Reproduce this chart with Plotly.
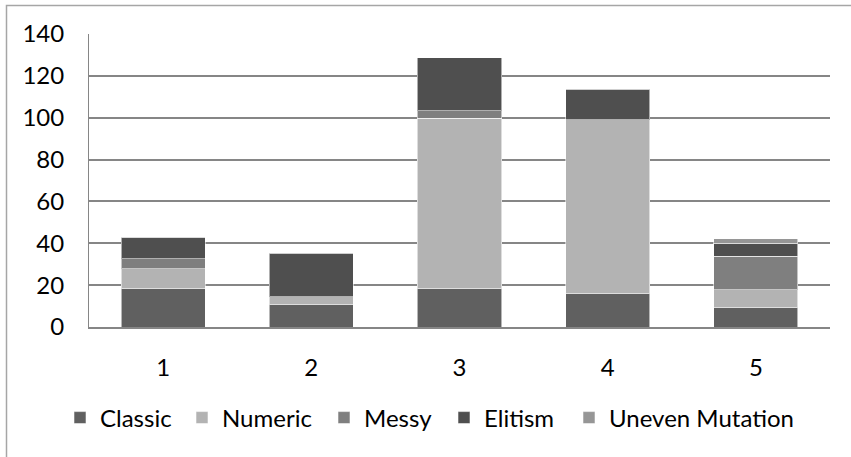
import plotly.graph_objects as go

categories = ["1", "2", "3", "4", "5"]
series_names = ["Classic", "Numeric", "Messy", "Elitism", "Uneven Mutation"]
classic = [18.4, 10.6, 18.5, 15.9, 9.4]
numeric = [9.4, 3.8, 81.3, 83.1, 8.5]
messy = [4.9, 0.0, 3.5, 0.0, 15.9]
elitism = [10.3, 20.5, 25.3, 14.3, 6.2]
uneven = [0.2, 0.6, 0.0, 0.5, 2.1]
y_ticks = [0, 20, 40, 60, 80, 100, 120, 140]

series_values = [classic, numeric, messy, elitism, uneven]
colors = ["#606060", "#b3b3b3", "#7f7f7f", "#4f4f4f", "#969696"]
legend_x_px = [79, 201, 343, 463, 588]

W, H = 851, 457
ml, mr, mt, mb = 89, 21, 34, 130
pw, ph = W - ml - mr, H - mt - mb

FONT = "Lato"
FS = 24

fig = go.Figure()
legend_names = ["legend", "legend2", "legend3", "legend4", "legend5"]
for name, vals, col, lg in zip(series_names, series_values, colors, legend_names):
    fig.add_trace(go.Bar(
        x=categories, y=vals, name=name,
        marker=dict(color=col, line=dict(color="rgba(255,255,255,0.55)", width=1)),
        width=0.567, legend=lg, showlegend=True,
    ))

layout_legends = {}
for lg, px in zip(legend_names, legend_x_px):
    layout_legends[lg] = dict(
        x=(px - 19 - ml) / pw, xanchor="left",
        y=-(418 - (mt + ph)) / ph, yanchor="middle",
        orientation="h", bgcolor="rgba(0,0,0,0)",
        font=dict(family=FONT, size=FS, color="#000000"),
        itemclick=False, itemdoubleclick=False,
    )

fig.update_layout(
    width=W, height=H,
    margin=dict(l=ml, r=mr, t=mt, b=mb, autoexpand=False),
    barmode="stack",
    bargap=0.433,
    showlegend=True,
    plot_bgcolor="white", paper_bgcolor="white",
    font=dict(family=FONT, size=FS, color="#000000"),
    xaxis=dict(
        type="category", showgrid=False, showline=True,
        linecolor="#868686", linewidth=2, ticks="",
        ticklabelstandoff=18, tickfont=dict(family=FONT, size=FS),
    ),
    yaxis=dict(
        range=[0, 140], tickvals=y_ticks, showgrid=True,
        gridcolor="#868686", gridwidth=1.5, showline=True,
        linecolor="#868686", linewidth=1, ticks="", zeroline=False,
        ticklabelstandoff=19, tickfont=dict(family=FONT, size=FS),
    ),
    shapes=[dict(
        type="rect", xref="paper", yref="paper",
        x0=(6.5 - ml) / pw, x1=(W + 20 - ml) / pw,
        y0=-(H + 20 - mt - ph) / ph, y1=(mt - 5.5) / ph + 1,
        line=dict(color="#a6a6a6", width=1.5), fillcolor="rgba(0,0,0,0)",
        layer="below",
    )],
    **layout_legends,
)

fig.write_html(
    "out.html",
    config={"displayModeBar": False},
    post_script="document.body.style.margin='0px';document.body.style.overflow='hidden';",
)
